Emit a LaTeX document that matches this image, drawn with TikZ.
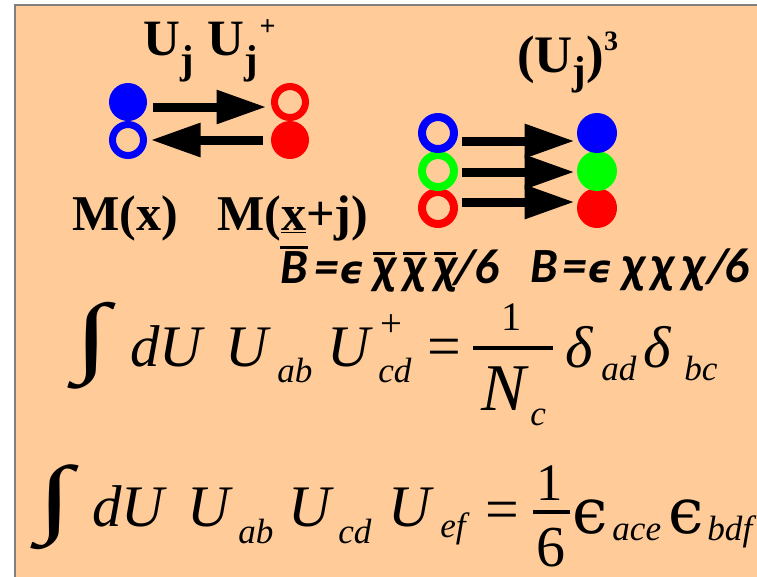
\documentclass[tikz,border=0pt]{standalone}
\usepackage{fontspec}
\usepackage{graphicx}
\setmainfont{Liberation Serif}
\newfontfamily\labelsans{Carlito}
\newfontfamily\greeksans{DejaVu Sans}
\newfontfamily\greekserif{DejaVu Serif}
\usetikzlibrary{arrows.meta}
\definecolor{slidepeach}{HTML}{FFCC99}
\definecolor{slideedge}{HTML}{7F7F7F}
\definecolor{quarkblue}{HTML}{0000FF}
\definecolor{quarkgreen}{HTML}{00FF00}
\definecolor{quarkred}{HTML}{FF0000}

\newlength{\px}\setlength{\px}{0.2mm}
\newcommand{\hopfont}{\fontsize{29}{30}\selectfont\bfseries}
\newcommand{\linkfont}{\fontsize{30}{32}\selectfont\bfseries}
\newcommand{\sitefont}{\fontsize{28.5}{30}\selectfont\bfseries}
\newcommand{\baryonfont}{\fontsize{28}{30}\selectfont\labelsans\bfseries\itshape}
\newcommand{\eqfont}{\fontsize{33.5}{36}\selectfont\itshape}
\newcommand{\idxfont}{\fontsize{20}{22}\selectfont\itshape}
\newcommand{\lowj}[1]{\raisebox{-#1\px}{\fontsize{23}{23}\selectfont j}}
% overline drawn as its own rule: raise, width
\newcommand{\barover}[2]{\makebox[0pt]{\rule[#1\px]{#2\px}{3\px}}}
\newcommand{\glyphat}[2]{\makebox[0pt]{#2}\hspace{#1\px}}
\newcommand{\bigint}[1]{\resizebox*{35\px}{#1\px}{∫}}
\newcommand{\sanseps}{{\fontsize{22}{22}\selectfont\greeksans\bfseries\itshape ϵ}}
\newcommand{\sanschi}{{\fontsize{30}{30}\selectfont χ}}
\newcommand{\eqeps}{{\fontsize{36}{38}\selectfont\upshape\greekserif ϵ}}

\begin{document}
\begin{tikzpicture}[x=0.2mm, y=-0.2mm,
  lbl/.style={inner sep=0pt, anchor=base west},
  quark/.style={circle, inner sep=0pt, minimum size=7.6mm, fill=#1},
  antiquark/.style={circle, inner sep=0pt, minimum size=6.2mm,
    draw=#1, line width=1.4mm},
  bigquark/.style={circle, inner sep=0pt, minimum size=8mm, fill=#1},
  bigantiquark/.style={circle, inner sep=0pt, minimum size=6.4mm,
    draw=#1, line width=1.6mm},
  hop/.style={-{Triangle[length=10mm, width=6.4mm]}, line width=1.8mm},
  fracbar/.style={line width=0.85mm}
]
\useasboundingbox (0,0) rectangle (757,576);
\draw[draw=slideedge, line width=0.35mm, fill=slidepeach] (15,5) rectangle (775,595);

% meson hopping
\node[quark=quarkblue] (mq1) at (128,102) {};
\node[antiquark=quarkblue] (ma1) at (128,140) {};
\node[antiquark=quarkred] (ma2) at (290,102) {};
\node[quark=quarkred] (mq2) at (290,140) {};
\draw[hop] ([shift={(6,5)}]mq1.east) -- ([shift={(-4.5,5)}]ma2.west);
\draw[hop] ([shift={(-8,0)}]mq2.west) -- ([shift={(3.5,0)}]ma1.east);

\node[lbl] (hoplabel) at (143,55)
  {\hopfont U\lowj{18}\hspace{8pt}U\lowj{18}\hspace{1pt}\raisebox{11pt}{\fontsize{16}{16}\selectfont +}};
\node[lbl] (sitex) at (72,230) {\sitefont M(x)};
\node[lbl] (sitexj) at (217,230) {\sitefont M(\underline{x}+j)};

% baryon hopping
\node[bigantiquark=quarkred] (anti3) at (438,208) {};
\node[bigantiquark=quarkgreen] (anti2) at (438,171) {};
\node[bigantiquark=quarkblue] (anti1) at (438,133) {};
\node[bigquark=quarkred] (quark3) at (597,208) {};
\node[bigquark=quarkgreen] (quark2) at (597,171) {};
\node[bigquark=quarkblue] (quark1) at (597,133) {};
\foreach \i/\dy in {1/8, 2/1, 3/-6}
  \draw[hop] ([shift={(4,\dy)}]anti\i.east) -- ([shift={(-2,\dy)}]quark\i.west);

\node[lbl] (linklabel) at (517,72)
  {\linkfont (U\lowj{12})\raisebox{12.5pt}{\fontsize{16}{16}\selectfont 3}};

\node[lbl] (antibaryon) at (293.5,283)
  {\baryonfont\barover{34}{28}\glyphat{33}{B}\glyphat{25}{=}\glyphat{32.5}{\sanseps}%
   \barover{28}{22}\glyphat{30}{\sanschi}\barover{28}{22}\glyphat{31}{\sanschi}%
   \barover{28}{22}\glyphat{20}{\sanschi}\glyphat{21.5}{/}\glyphat{0}{6}};
\node[lbl] (baryon) at (543.5,282)
  {\baryonfont\glyphat{30.5}{B}\glyphat{25.5}{=}\glyphat{34}{\sanseps}%
   \glyphat{29}{\sanschi}\glyphat{31}{\sanschi}\glyphat{24}{\sanschi}\glyphat{19}{/}\glyphat{0}{6}};

% U U^+ integral
\node[inner sep=0pt] (int1) at (92,346) {\bigint{87}};
\node[lbl] (du1) at (130,366) {\eqfont dU};
\node[lbl] (ua1) at (225,366) {\eqfont U};
\node[lbl] (ab1) at (277,382) {\idxfont ab};
\node[lbl] (uc1) at (327,366) {\eqfont U};
\node[lbl] (dag1) at (380,336) {\fontsize{22}{22}\selectfont +};
\node[lbl] (cd1) at (378,382) {\idxfont cd};
\node[lbl] (equal1) at (427,366) {\fontsize{34}{36}\selectfont =};
\node[inner sep=0pt, anchor=base] (one1) at (512,330) {\fontsize{23}{24}\selectfont 1};
\draw[fracbar] (473,348) -- (553,348);
\node[lbl] (nc1) at (481,410) {\fontsize{38}{40}\selectfont\itshape N};
\node[lbl] (sub1) at (530,425) {\idxfont c};
\node[lbl] (delta1) at (565,367) {\eqfont δ};
\node[lbl] (ad1) at (601,380) {\idxfont ad};
\node[lbl] (delta2) at (643,367) {\eqfont δ};
\node[lbl] (bc1) at (684,380) {\idxfont bc};

% U U U integral
\node[inner sep=0pt] (int2) at (55.5,507.5) {\bigint{85}};
\node[lbl] (du2) at (92,526) {\eqfont dU};
\node[lbl] (ua2) at (187,526) {\eqfont U};
\node[lbl] (ab2) at (238,543) {\idxfont ab};
\node[lbl] (uc2) at (288,526) {\eqfont U};
\node[lbl] (cd2) at (338,543) {\idxfont cd};
\node[lbl] (ue2) at (388,526) {\eqfont U};
\node[lbl] (ef2) at (440,537) {\idxfont ef};
\node[lbl] (equal2) at (485,529) {\fontsize{34}{36}\selectfont =};
\node[inner sep=0pt, anchor=base] (one2) at (549.5,500) {\fontsize{30}{32}\selectfont 1};
\draw[fracbar] (533,512) -- (570,512);
\node[inner sep=0pt, anchor=base] (six2) at (551,566) {\fontsize{33}{35}\selectfont 6};
\node[lbl] (eps1) at (572,533) {\eqeps};
\node[lbl] (ace2) at (612,540) {\idxfont ace};
\node[lbl] (eps2) at (668,533) {\eqeps};
\node[lbl] (bdf2) at (707,540) {\idxfont bdf};
\end{tikzpicture}
\end{document}
